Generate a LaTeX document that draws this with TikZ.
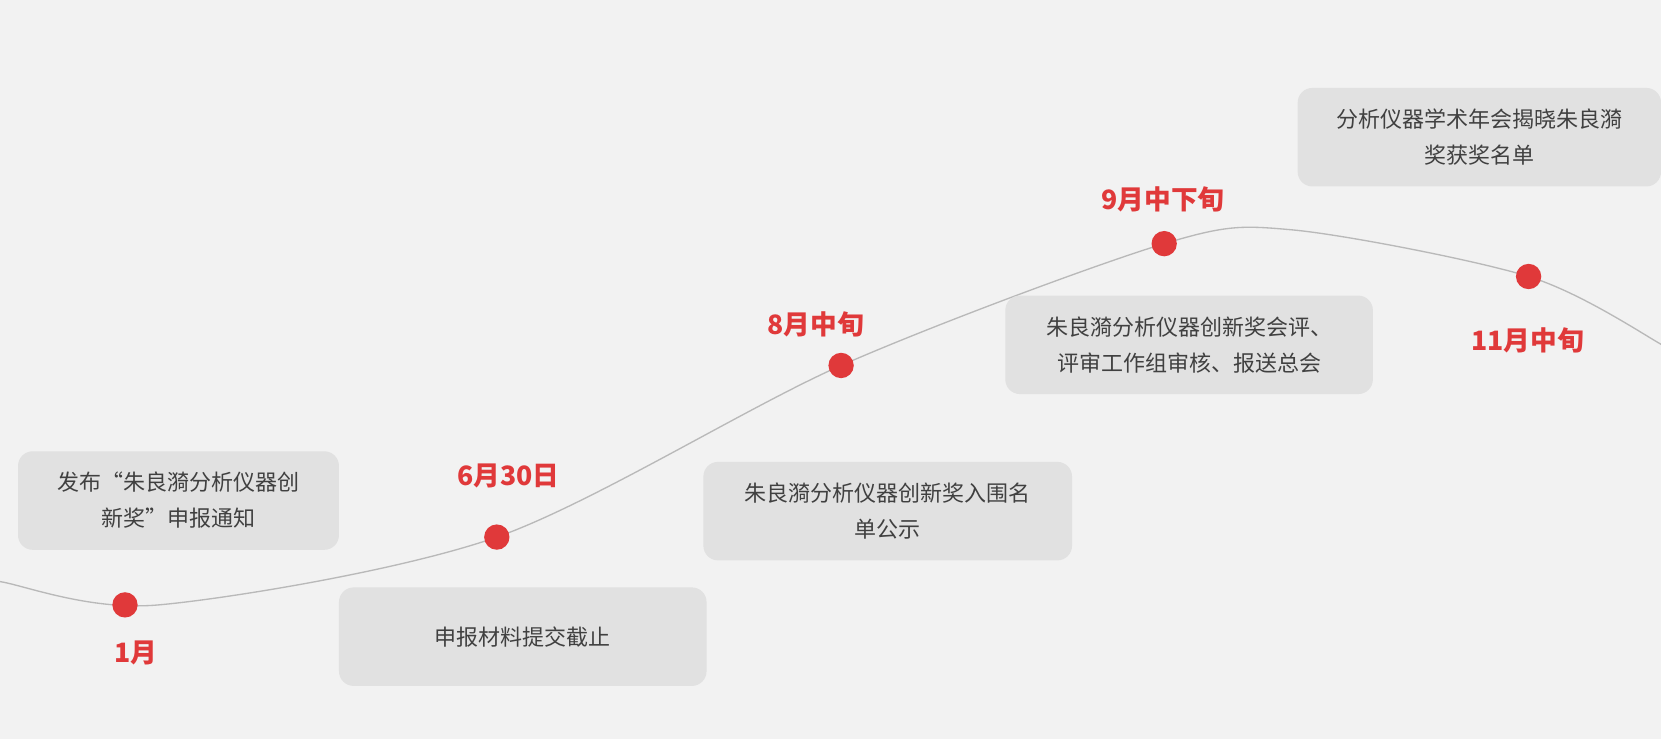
\documentclass[tikz,border=0pt]{standalone}
\usepackage{fontspec}
\setmainfont{Noto Sans CJK SC}
\definecolor{bg}{HTML}{F2F2F2}
\definecolor{boxc}{HTML}{E1E1E1}
\definecolor{red1}{HTML}{E0393A}
\definecolor{txt}{HTML}{404040}
\begin{document}
\begin{tikzpicture}[x=0.7945pt,y=-0.7945pt,
  box/.style={fill=boxc,rounded corners=11pt,minimum width=#1*0.7945pt,minimum height=93*0.7945pt,align=center,text=txt,font=\fontsize{16.5pt}{27pt}\selectfont},
  dot/.style={circle,fill=red1,minimum size=19pt,inner sep=0pt},
  lab/.style={text=red1,font=\fontsize{20pt}{24pt}\selectfont\bfseries}]
\fill[bg] (0,0) rectangle (1568,698);
\useasboundingbox (0,0) rectangle (1568,698);
\begin{scope}
\clip (0,0) rectangle (1568,698);
\draw[gray!55,line width=1pt] plot[smooth,tension=0.5] coordinates {(-20,544) (0,549) (150,571) (469,507) (794,345) (1099,230) (1220,217) (1443,261) (1568,325) (1590,345)};
\end{scope}
\node[dot] (d1) at (118,571) {};
\node[dot] (d2) at (469,507) {};
\node[dot] (d3) at (794,345) {};
\node[dot] (d4) at (1099,230) {};
\node[dot] (d5) at (1443,261) {};
\node[lab] (l1) at (128,616) {1月};
\node[lab] (l2) at (480,449) {6月30日};
\node[lab] (l3) at (770,306) {8月中旬};
\node[lab] (l4) at (1098,188) {9月中下旬};
\node[lab] (l5) at (1442,321) {11月中旬};
\node[box=303] (b1) at (168.5,472.5) {发布“朱良漪分析仪器创\\新奖”申报通知};
\node[box=347] (b2) at (493.5,601) {申报材料提交截止};
\node[box=348] (b3) at (838,482.5) {朱良漪分析仪器创新奖入围名\\单公示};
\node[box=347] (b4) at (1122.5,325.5) {朱良漪分析仪器创新奖会评、\\评审工作组审核、报送总会};
\node[box=343] (b5) at (1396.5,129.5) {分析仪器学术年会揭晓朱良漪\\奖获奖名单};
\end{tikzpicture}
\end{document}
